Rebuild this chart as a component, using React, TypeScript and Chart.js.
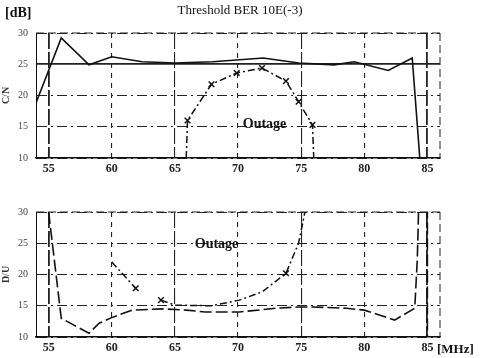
import React, { useEffect, useRef } from "react";
import { Chart, registerables } from "chart.js";

Chart.register(...registerables);

// x ticks (MHz) and y ticks (dB)
const xTicks = [55, 60, 65, 70, 75, 80, 85];
const yTicks = [10, 15, 20, 25, 30];

// Upper panel: solid curve
const topSolidX = [54, 56, 58.2, 60, 62.4, 65, 68, 72, 74.8, 77.6, 79.2, 81.9, 83.8, 84.4];
const topSolidY = [18.8, 29.2, 24.9, 26.2, 25.4, 25.2, 25.4, 26.0, 25.2, 24.9, 25.4, 24.0, 26.0, 10];

// Upper panel: dash-dot curve with markers
const topDashX = [65.9, 66.0, 67.9, 69.9, 71.9, 73.8, 74.8, 75.9, 76.0];
const topDashY = [10, 16.0, 21.8, 23.6, 24.4, 22.3, 19.0, 15.3, 10];

// Lower panel: solid/dashed curve
const botSolidX = [55, 56, 58.2, 59, 60, 61.6, 64, 65.9, 67.4, 70.1, 73, 74.8, 75.9, 78.6, 80, 82.4, 84, 84.2, 84.3, 85, 85];
const botSolidY = [30, 13, 10.6, 12.2, 13.1, 14.3, 14.5, 14.3, 14.0, 14.0, 14.6, 14.8, 14.8, 14.6, 14.3, 12.7, 14.6, 22.3, 30, 30, 10];

// Lower panel: dash-dot curve with markers (null = gap)
const botDashX = [60, 61.9, 62.9, 63.9, 65, 67.9, 70.1, 71.9, 73.8, 74.8, 75.3];
const botDashY: (number | null)[] = [22, 17.8, null, 15.9, 15.1, 15.0, 15.9, 17.2, 20.2, 25, 30];

const SERIF = "'Liberation Serif', 'DejaVu Serif', serif";

function pts(xs: number[], ys: (number | null)[]) {
  return xs.map((x, i) => ({ x, y: ys[i] as number }));
}

type Label = { text: string; x: number; y: number; data?: boolean; align?: CanvasTextAlign; size?: number; bold?: boolean };

function textPlugin(labels: Label[]) {
  return {
    id: "texts",
    afterDraw(chart: any) {
      const ctx = chart.ctx;
      const a = chart.chartArea;
      ctx.save();
      // dashed frame on top and right
      ctx.strokeStyle = "#222";
      ctx.lineWidth = 1;
      ctx.setLineDash([8, 4]);
      ctx.beginPath();
      ctx.moveTo(a.left, a.top);
      ctx.lineTo(a.right, a.top);
      ctx.moveTo(a.right, a.top);
      ctx.lineTo(a.right, a.bottom);
      ctx.stroke();
      ctx.setLineDash([]);
      ctx.fillStyle = "#111";
      ctx.textBaseline = "middle";
      for (const l of labels) {
        ctx.font = `${l.bold ? "bold " : ""}${l.size || 13}px ${SERIF}`;
        ctx.textAlign = l.align || "center";
        let px = l.x, py = l.y;
        if (l.data) {
          px = chart.scales.x.getPixelForValue(l.x);
          py = chart.scales.y.getPixelForValue(l.y);
        }
        ctx.fillText(l.text, px, py);
      }
      ctx.restore();
    },
  };
}

function makeOptions(yTitle: string, topPad: number, xHeight: number, solidY: number | null): any {
  return {
    responsive: false,
    animation: false,
    layout: { padding: { top: topPad, right: 44, left: 0, bottom: 0 } },
    plugins: { legend: { display: false }, tooltip: { enabled: false }, title: { display: false } },
    scales: {
      x: {
        type: "linear",
        min: 54,
        max: 86,
        afterBuildTicks: (s: any) => { s.ticks = xTicks.map((v) => ({ value: v })); },
        afterFit: (s: any) => { s.height = xHeight; },
        ticks: { color: "#222", font: { family: SERIF, size: 12, weight: "bold" }, padding: 4 },
        grid: {
          color: "#222",
          lineWidth: (c: any) => (c.tick && (c.tick.value === 55 || c.tick.value === 85) ? 1.8 : 1.1),
          drawTicks: false,
        },
        border: {
          display: true,
          color: "#111",
          width: 1.5,
          dash: (c: any) => (c.tick ? (c.tick.value % 10 === 5 ? [16, 3] : [5, 5]) : []),
        },
      },
      y: {
        type: "linear",
        min: 10,
        max: 30,
        afterBuildTicks: (s: any) => { s.ticks = yTicks.map((v) => ({ value: v })); },
        afterFit: (s: any) => { s.width = 36; },
        ticks: { color: "#444", font: { family: SERIF, size: 10 }, padding: 8 },
        title: { display: true, text: yTitle, color: "#333", font: { family: SERIF, size: 10, weight: "bold" }, padding: 0 },
        grid: {
          color: "#222",
          lineWidth: (c: any) => (c.tick && c.tick.value === solidY ? 1.8 : 1),
          drawTicks: false,
        },
        border: {
          display: true,
          color: "#111",
          width: 1,
          dash: (c: any) => (c.tick ? (c.tick.value === solidY ? [] : [10, 4, 2, 4]) : [6, 3]),
        },
      },
    },
  };
}

function Panel({ which }: { which: "top" | "bottom" }) {
  const ref = useRef<HTMLCanvasElement>(null);
  useEffect(() => {
    if (!ref.current) return;
    let chart: Chart;
    if (which === "top") {
      chart = new Chart(ref.current, {
        type: "scatter",
        data: {
          datasets: [
            {
              data: pts(topSolidX, topSolidY),
              showLine: true,
              borderColor: "#111",
              borderWidth: 1.6,
              pointRadius: 0,
            },
            {
              data: pts(topDashX, topDashY),
              showLine: true,
              borderColor: "#111",
              borderWidth: 1.5,
              borderDash: [7, 3, 2, 3],
              pointStyle: "crossRot",
              pointRadius: topDashX.map((_, i) => (i === 0 || i === topDashX.length - 1 ? 0 : 4)),
              pointBorderColor: "#111",
              pointBorderWidth: 1.5,
            },
          ],
        },
        options: makeOptions("C/N", 33, 22, 25),
        plugins: [
          textPlugin([
            { text: "[dB]", x: 5, y: 13, align: "left", bold: true, size: 14 },
            { text: "Threshold BER 10E(-3)", x: 240, y: 11, size: 13 },
            { text: "Outage", x: 72.1, y: 15.3, data: true, bold: true, size: 14 },
          ]),
        ],
      } as any);
    } else {
      chart = new Chart(ref.current, {
        type: "scatter",
        data: {
          datasets: [
            {
              data: pts(botSolidX, botSolidY),
              showLine: true,
              borderColor: "#111",
              borderWidth: 1.6,
              borderDash: [12, 4],
              pointRadius: 0,
            },
            {
              data: pts(botDashX, botDashY),
              showLine: true,
              spanGaps: false,
              borderColor: "#111",
              borderWidth: 1.5,
              borderDash: [7, 3, 2, 3],
              pointStyle: "crossRot",
              pointRadius: botDashX.map((_, i) => (i === 1 || i === 3 || i === 8 ? 4 : 0)),
              pointBorderColor: "#111",
              pointBorderWidth: 1.5,
            },
          ],
        },
        options: makeOptions("D/U", 32, 21, null),
        plugins: [
          textPlugin([
            { text: "Outage", x: 68.3, y: 24.8, data: true, bold: true, size: 14 },
            { text: "[MHz]", x: 437, y: 170, align: "left", bold: true, size: 13 },
          ]),
        ],
      } as any);
    }
    return () => chart.destroy();
  }, [which]);
  return <canvas ref={ref} width={484} height={which === "top" ? 180 : 178} style={{ display: "block" }} />;
}

export default function App() {
  return (
    <div style={{ position: "absolute", left: 0, top: 0, width: 484, height: 358, background: "#fff" }}>
      <Panel which="top" />
      <Panel which="bottom" />
    </div>
  );
}
